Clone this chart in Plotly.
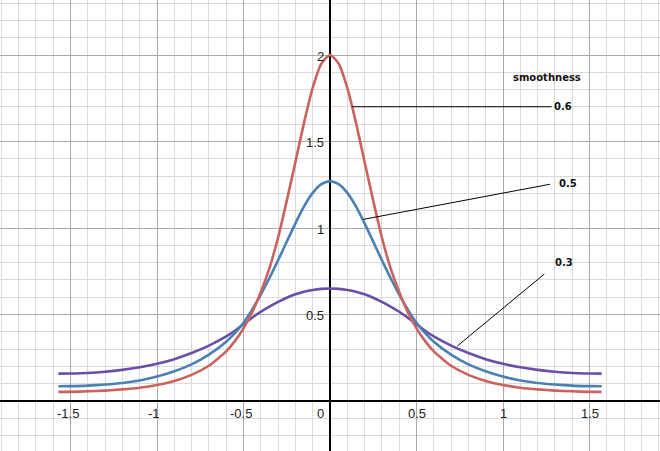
import plotly.graph_objects as go

# ---- data ----
x_vals = [-1.57, -1.5, -1.4, -1.3, -1.2, -1.1, -1.0, -0.9, -0.8, -0.7, -0.6, -0.55,
          -0.5, -0.45, -0.4, -0.35, -0.3, -0.25, -0.2, -0.15, -0.1, -0.05, 0.0,
          0.05, 0.1, 0.15, 0.2, 0.25, 0.3, 0.35, 0.4, 0.45, 0.5, 0.55, 0.6,
          0.7, 0.8, 0.9, 1.0, 1.1, 1.2, 1.3, 1.4, 1.5, 1.57]

red_06 = [0.053, 0.053, 0.056, 0.060, 0.067, 0.077, 0.093, 0.116, 0.151, 0.204, 0.287, 0.346,
          0.420, 0.513, 0.630, 0.768, 0.945, 1.157, 1.382, 1.609, 1.810, 1.950, 2.000,
          1.950, 1.810, 1.609, 1.382, 1.157, 0.945, 0.768, 0.630, 0.513, 0.420, 0.346, 0.287,
          0.204, 0.151, 0.116, 0.093, 0.077, 0.067, 0.060, 0.056, 0.053, 0.053]

blue_05 = [0.085, 0.086, 0.089, 0.095, 0.104, 0.119, 0.141, 0.172, 0.212, 0.268, 0.343, 0.392,
           0.452, 0.528, 0.615, 0.711, 0.814, 0.921, 1.027, 1.125, 1.203, 1.254, 1.271,
           1.254, 1.203, 1.125, 1.027, 0.921, 0.814, 0.711, 0.615, 0.528, 0.452, 0.392, 0.343,
           0.268, 0.212, 0.172, 0.141, 0.119, 0.104, 0.095, 0.089, 0.086, 0.085]

purple_03 = [0.158, 0.159, 0.162, 0.169, 0.180, 0.195, 0.215, 0.242, 0.277, 0.320, 0.373, 0.406,
             0.443, 0.481, 0.516, 0.546, 0.573, 0.597, 0.617, 0.632, 0.642, 0.648, 0.650,
             0.648, 0.642, 0.632, 0.617, 0.597, 0.573, 0.546, 0.516, 0.481, 0.443, 0.406, 0.373,
             0.320, 0.277, 0.242, 0.215, 0.195, 0.180, 0.169, 0.162, 0.159, 0.158]

x_tick_vals = [-1.5, -1, -0.5, 0.5, 1, 1.5]
x_tick_text = ["-1.5", "-1", "-0.5", "0.5", "1", "1.5"]
y_tick_vals = [0.5, 1, 1.5, 2]
y_tick_text = ["0.5", "1", "1.5", "2"]

legend_title = "smoothness"
labels = ["0.6", "0.5", "0.3"]
# leader lines: (x0, y0) on curve -> (x1, y1) at label
leader_start = [(0.129, 1.701), (0.193, 1.050), (0.736, 0.318)]
leader_end = [(1.281, 1.701), (1.272, 1.253), (1.239, 0.734)]
label_pos = [(1.285, 1.70), (1.31, 1.257), (1.29, 0.798)]

colors = ["#cb625d", "#4a80b6", "#6a4fa8"]

fig = go.Figure()
for ys, c, name in zip([purple_03, blue_05, red_06], [colors[2], colors[1], colors[0]], ["0.3", "0.5", "0.6"]):
    fig.add_trace(go.Scatter(x=x_vals, y=ys, mode="lines", name=name,
                             line=dict(color=c, width=2.6, shape="spline", smoothing=0.6),
                             hoverinfo="skip"))

axis_common = dict(
    showgrid=True, gridcolor="#a9a9a9", gridwidth=1, tick0=0, dtick=0.5,
    minor=dict(dtick=0.1, showgrid=True, gridcolor="#dadada", gridwidth=1),
    zeroline=True, zerolinecolor="#000000", zerolinewidth=1.6,
    showticklabels=False, ticks="", showline=False, fixedrange=True,
)

fig.update_layout(
    width=660, height=451,
    margin=dict(l=0, r=0, t=0, b=0),
    paper_bgcolor="white", plot_bgcolor="white",
    showlegend=False,
    xaxis=dict(range=[-1.9075, 1.9075], **axis_common),
    yaxis=dict(range=[-0.289, 2.318], **axis_common),
    font=dict(family="Liberation Sans, Arial, sans-serif", size=13, color="#222222"),
)

annotations = []
for v, t in zip(x_tick_vals, x_tick_text):
    annotations.append(dict(x=v, y=0, text=t, showarrow=False, xanchor="center", yanchor="middle",
                            yshift=-12, xshift=-3 if v < 0 else 0,
                            font=dict(family="Liberation Sans, Arial", size=13, color="#222222")))
annotations.append(dict(x=0, y=0, text="0", showarrow=False, xanchor="right", yanchor="middle",
                        yshift=-12, xshift=-4,
                        font=dict(family="Liberation Sans, Arial", size=13, color="#222222")))
for v, t in zip(y_tick_vals, y_tick_text):
    annotations.append(dict(x=0, y=v, text=t, showarrow=False, xanchor="right", yanchor="middle",
                            xshift=-4, yshift=-1,
                            font=dict(family="Liberation Sans, Arial", size=13, color="#222222")))

annotations.append(dict(x=1.255, y=1.868, text="<b>" + legend_title + "</b>", showarrow=False,
                        xanchor="center", yanchor="middle",
                        font=dict(family="DejaVu Sans", size=10, color="#111111")))
for (lx, ly), t in zip(label_pos, labels):
    annotations.append(dict(x=lx, y=ly, text="<b>" + t + "</b>", showarrow=False,
                            xanchor="left", yanchor="middle",
                            font=dict(family="DejaVu Sans", size=10, color="#111111")))
fig.update_layout(annotations=annotations)

for (x0, y0), (x1, y1) in zip(leader_start, leader_end):
    fig.add_shape(type="line", x0=x0, y0=y0, x1=x1, y1=y1, xref="x", yref="y",
                  line=dict(color="black", width=1))

fig.write_html("out.html", config={"displayModeBar": False},
               post_script="document.body.style.margin='0';document.body.style.padding='0';")
